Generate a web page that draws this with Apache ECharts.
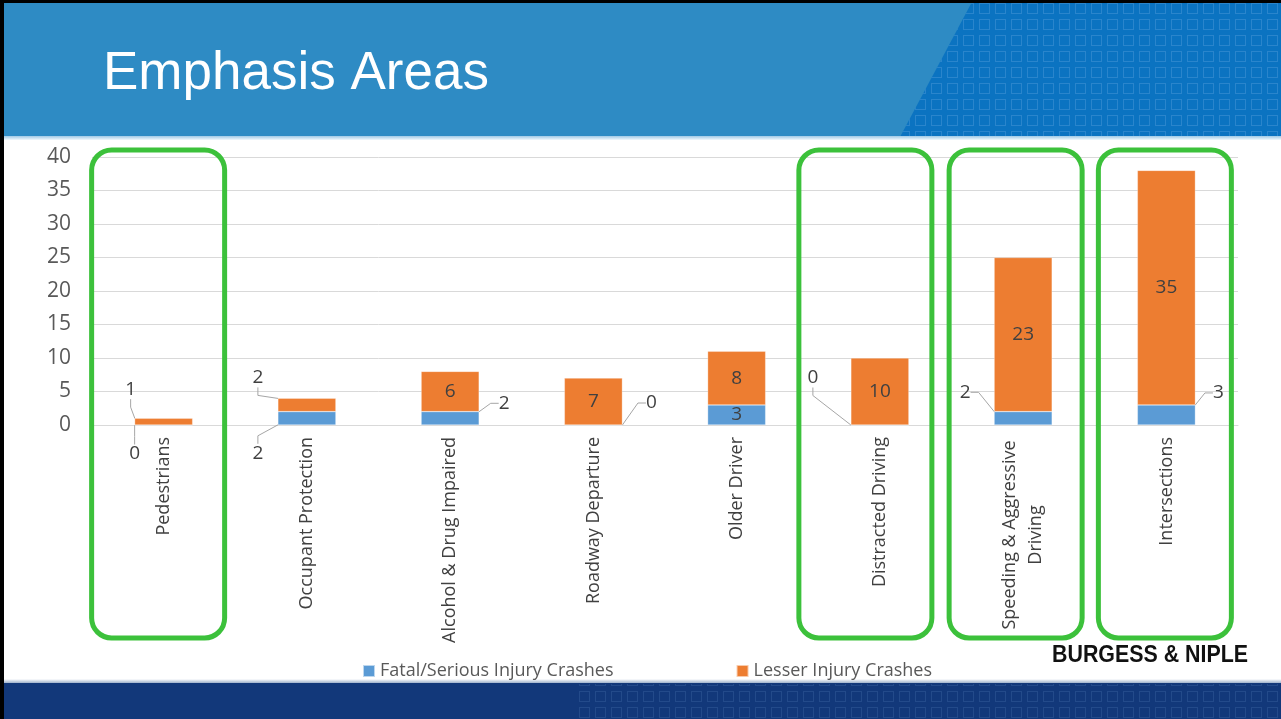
<!DOCTYPE html>
<html>
<head>
<meta charset="utf-8">
<title>Emphasis Areas</title>
<script src="https://cdn.jsdelivr.net/npm/echarts@6/dist/echarts.min.js"></script>
<style>
    html, body { margin: 0; padding: 0; background: #fff; }
    #main { width: 1281px; height: 719px; }
</style>
</head>
<body>
<div id="main"></div>
<script>
    // 分类（x轴）
    const categories = ['Pedestrians', 'Occupant Protection', 'Alcohol & Drug Impaired', 'Roadway Departure',
        'Older Driver', 'Distracted Driving', 'Speeding & Aggressive\nDriving', 'Intersections'];
    // 两个堆叠系列
    const fatalSerious = [0, 2, 2, 0, 3, 0, 2, 3];
    const lesserInjury = [1, 2, 6, 7, 8, 10, 23, 35];
    const seriesNames = ['Fatal/Serious Injury Crashes', 'Lesser Injury Crashes'];
    // y轴刻度
    const yTicks = [0, 5, 10, 15, 20, 25, 30, 35, 40];
    // 绿框圈出的分类
    const highlighted = [0, 5, 6, 7];

    // 移到柱外的标签偏移 [dx, dy]，带引导线
    const fatalShift = [[-29, 29], [-49, 35], [54, -15], [58, -22], null, [-67, -47], [-58, -26], [52, -22]];
    const lesserShift = [[-33, -32], [-49, -27], null, null, null, null, null, null];
    // 绿框左右边相对分类中心的偏移（手画的框，不完全居中）
    const boxEdges = [[-72, 61], [-81, 52], [-74, 59], [-68, 65]];

    const FONT = '"Open Sans", "Liberation Sans", sans-serif';

    let chart = echarts.init(document.getElementById('main'));

    function buildData(values, shifts) {
        return values.map(function (v, i) {
            let item = { value: v };
            if (shifts[i]) {
                item.labelLine = { show: true };
            }
            return item;
        });
    }

    function barSeries(name, values, color, shifts) {
        return {
            name: name,
            type: 'bar',
            stack: 'total',
            barWidth: 58,
            data: buildData(values, shifts),
            itemStyle: { color: color, borderColor: 'rgba(255,255,255,0.6)', borderWidth: 0.5 },
            label: {
                show: true,
                position: 'inside',
                color: '#404040',
                fontSize: 19,
                fontFamily: FONT
            },
            labelLine: {
                show: false,
                length2: 8,
                lineStyle: { color: '#a6a6a6', width: 1 }
            },
            labelLayout: function (params) {
                let s = shifts[params.dataIndex];
                return s ? { dx: s[0], dy: s[1] } : {};
            }
        };
    }

    let option = {
        backgroundColor: '#ffffff',
        animation: false,
        grid: { left: 92, right: 43, top: 157, bottom: 294 },
        legend: {
            left: 357,
            top: 657,
            itemWidth: 12,
            itemHeight: 12,
            itemGap: 122,
            icon: 'rect',
            textStyle: { color: '#595959', fontSize: 18, fontFamily: FONT },
            data: seriesNames
        },
        xAxis: {
            type: 'category',
            data: categories,
            axisLine: { show: true, lineStyle: { color: '#d9d9d9', width: 1 } },
            axisTick: { show: false },
            axisLabel: {
                rotate: 90,
                interval: 0,
                margin: 12,
                color: '#404040',
                fontSize: 18,
                fontFamily: FONT,
                lineHeight: 26,
                formatter: function (v) {
                    if (v.indexOf('\n') < 0) return v;
                    return v.split('\n').map(function (s) { return '{c|' + s + '}'; }).join('\n');
                },
                rich: {
                    c: { width: 196, align: 'center', fontSize: 18, fontFamily: FONT, color: '#404040', lineHeight: 26 }
                }
            }
        },
        yAxis: {
            type: 'value',
            min: yTicks[0],
            max: yTicks[yTicks.length - 1],
            interval: yTicks[1] - yTicks[0],
            axisLine: { show: false },
            axisTick: { show: false },
            splitLine: { lineStyle: { color: '#d9d9d9', width: 1 } },
            axisLabel: { color: '#595959', fontSize: 21, fontFamily: FONT, margin: 21 }
        },
        series: [
            barSeries(seriesNames[0], fatalSerious, '#5b9bd5', fatalShift),
            barSeries(seriesNames[1], lesserInjury, '#ed7d31', lesserShift)
        ]
    };
    chart.setOption(option);

    // 小方块花纹（页眉、页脚）
    function makeTile(color) {
        let c = document.createElement('canvas');
        c.width = 16;
        c.height = 16;
        let g = c.getContext('2d');
        g.strokeStyle = color;
        g.lineWidth = 1;
        g.strokeRect(3.5, 3.5, 10, 10);
        return c;
    }

    // 幻灯片背景 + 绿框
    let W = 1281;
    let headPts = [[973, 0], [W, 0], [W, 137], [900, 137]];
    let graphics = [
        // 页眉
        { type: 'rect', z: -10, shape: { x: 0, y: 0, width: W, height: 137 }, style: { fill: '#2e8bc4' } },
        { type: 'polygon', z: -9, shape: { points: headPts }, style: { fill: '#0b73c1' } },
        { type: 'polygon', z: -8, shape: { points: headPts },
            style: { fill: { image: makeTile('rgba(90,160,220,0.4)'), repeat: 'repeat' } } },
        { type: 'rect', z: -7, shape: { x: 0, y: 136, width: W, height: 4 },
            style: { fill: new echarts.graphic.LinearGradient(0, 0, 0, 1, [
                { offset: 0, color: '#9fc9e6' }, { offset: 1, color: '#f2f9fd' }]) } },
        { type: 'text', z: 10, x: 103, y: 74,
            style: { text: 'Emphasis Areas', fill: '#ffffff', font: '53px "Liberation Sans", Arial, sans-serif',
                verticalAlign: 'middle' } },
        // 页脚
        { type: 'rect', z: -10, shape: { x: 0, y: 683, width: W, height: 36 }, style: { fill: '#12387a' } },
        { type: 'polygon', z: -8, shape: { points: [[575, 684], [W, 684], [W, 719], [575, 719]] },
            style: { fill: { image: makeTile('rgba(70,110,170,0.35)'), repeat: 'repeat' } } },
        { type: 'rect', z: -7, shape: { x: 0, y: 679, width: W, height: 4 },
            style: { fill: new echarts.graphic.LinearGradient(0, 0, 0, 1, [
                { offset: 0, color: '#ffffff' }, { offset: 1, color: '#9eb2cc' }]) } },
        { type: 'text', z: 10, x: 1052, y: 656, scaleX: 0.93, originX: 0,
            style: { text: 'BURGESS & NIPLE', fill: '#111111', font: 'bold 23px "Liberation Sans", Arial, sans-serif',
                verticalAlign: 'middle' } },
        // 黑色边框
        { type: 'rect', z: 20, shape: { x: 0, y: 0, width: W, height: 3 }, style: { fill: '#000' } },
        { type: 'rect', z: 20, shape: { x: 0, y: 0, width: 4, height: 719 }, style: { fill: '#000' } }
    ];

    let topY = chart.convertToPixel({ yAxisIndex: 0 }, yTicks[yTicks.length - 1]) - 7;
    highlighted.forEach(function (idx, k) {
        let cx = chart.convertToPixel({ xAxisIndex: 0 }, idx);
        let e = boxEdges[k];
        graphics.push({
            type: 'rect',
            z: 5,
            shape: { x: cx + e[0], y: topY, width: e[1] - e[0], height: 638 - topY, r: 20 },
            style: { fill: 'none', stroke: '#3cc13b', lineWidth: 5 }
        });
    });
    chart.setOption({ graphic: graphics });

    window.onresize = function () {
        chart && chart.resize();
    };
</script>
</body>
</html>
